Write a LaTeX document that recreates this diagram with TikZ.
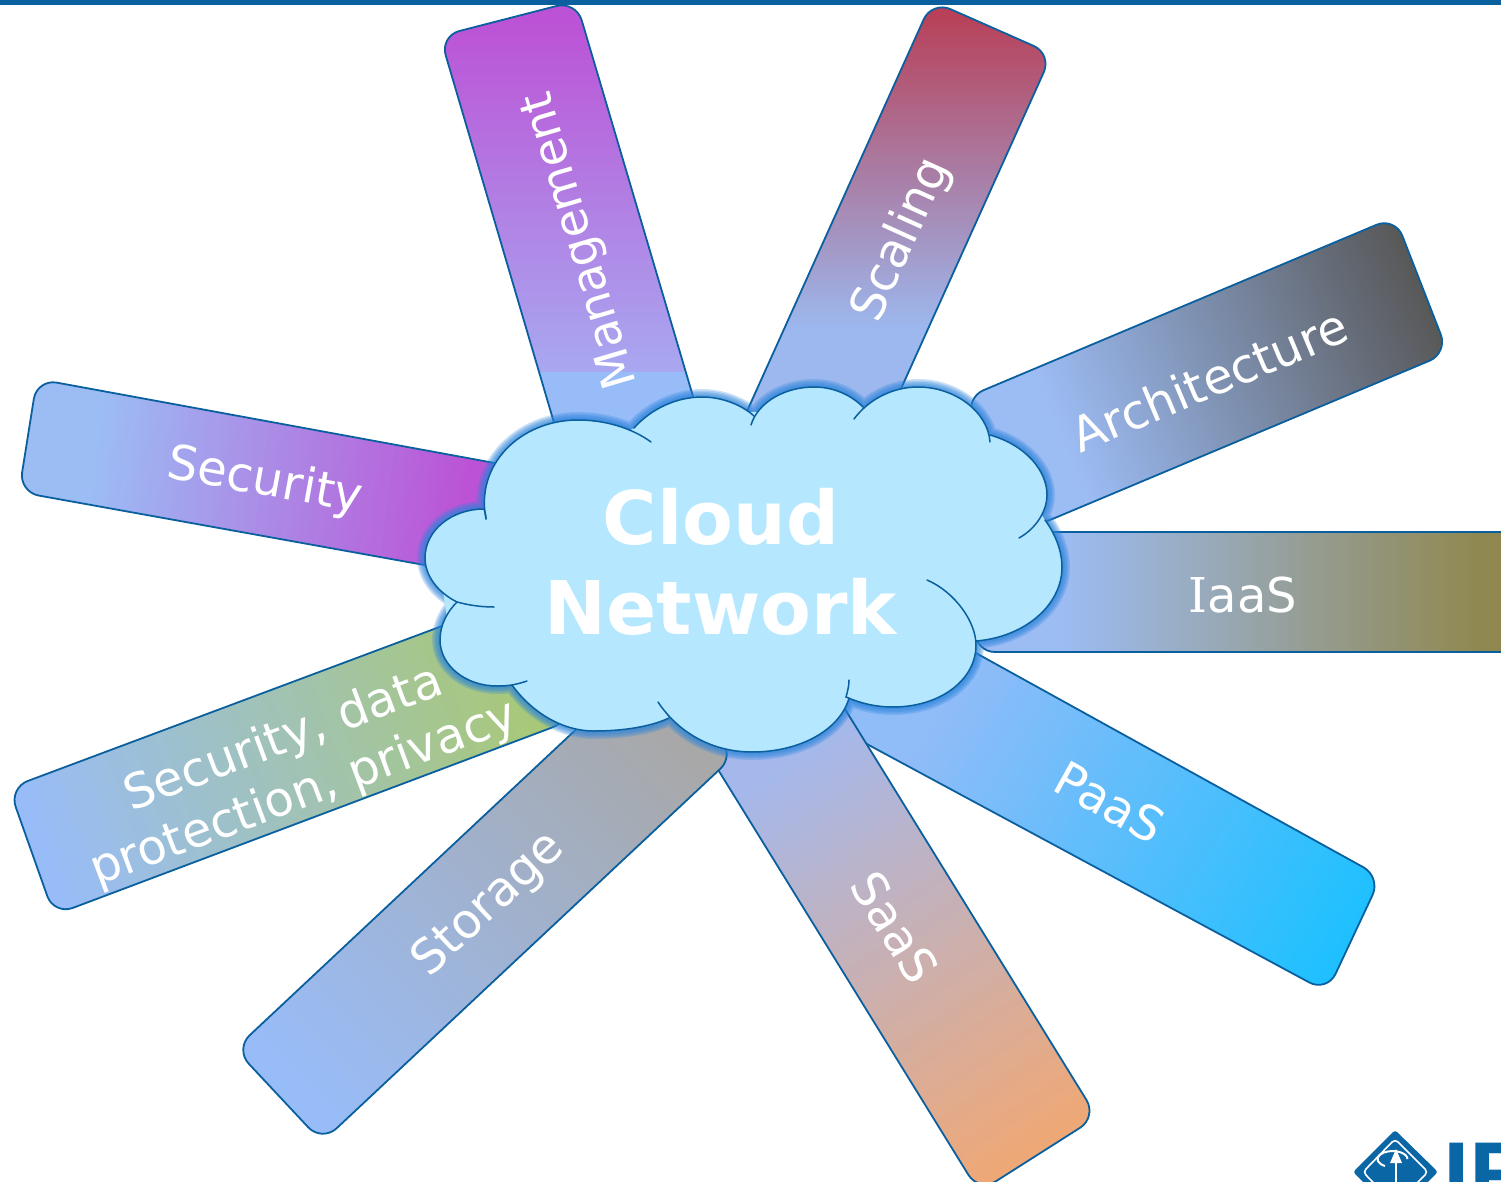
\documentclass[tikz,border=0pt]{standalone}
\usepackage{fontspec}
\setmainfont{DejaVu Sans}
\newfontfamily\logofont{Liberation Sans}
\newfontfamily\serifI{DejaVu Serif}
\definecolor{edge}{HTML}{0A5F9E}
\definecolor{glowc}{HTML}{2A84DC}
\definecolor{cloudc}{HTML}{B5E8FF}
\definecolor{logoc}{HTML}{0B66A6}
\definecolor{bluA}{HTML}{9CBCF4}
\definecolor{bluB}{HTML}{98BCF8}
\definecolor{mag}{HTML}{BC52D6}
\definecolor{mgl}{HTML}{A8A8F0}
\definecolor{red}{HTML}{B84058}
\definecolor{scl}{HTML}{9CB8EE}
\definecolor{dgr}{HTML}{585858}
\definecolor{olv}{HTML}{908850}
\definecolor{cyn}{HTML}{20C0FF}
\definecolor{pab}{HTML}{90BCF8}
\definecolor{org}{HTML}{EEA878}
\definecolor{sab}{HTML}{A4B8EC}
\definecolor{gry}{HTML}{A8A8A8}
\definecolor{grn}{HTML}{A8C878}
\tikzset{
  barline/.style={draw=edge,line width=1.8pt,rounded corners=20pt},
  barlabel/.style={text=white,font=\fontsize{48}{58}\selectfont,align=center,inner sep=0pt},
  cloudline/.style={draw=edge,line width=1.5pt,line cap=round},
  cloudlabel/.style={text=white,font=\fontsize{74}{90}\selectfont\bfseries,align=center,inner sep=0pt}
}
\newcommand\gradbar[8]{%
  \begin{scope}
    \clip[rounded corners=20pt] #1;
    \pgfmathsetmacro\gbang{atan2(-(#5-#3),#4-#2)}
    \pgfmathsetmacro\gblen{veclen(#4-#2,#5-#3)}
    \begin{scope}[shift={(#2,#3)},rotate=\gbang]
      \fill[#8] (-2000,-2000) rectangle (0.5,2000);
      \fill[#7] (\gblen-0.5,-2000) rectangle (2000,2000);
      \foreach \k in {0,...,69}{
        \pgfmathsetmacro\gbp{100*(1-(\k+.5)/70)}
        \pgfmathsetmacro\gbu{\k/70*\gblen}
        \pgfmathsetmacro\gbv{(\k+1)/70*\gblen+.6}
        \fill[#6!\gbp!#7] (\gbu,-2000) rectangle (\gbv,2000);
      }
    \end{scope}
  \end{scope}
  \draw[barline] #1;
}
\def\PA{(486,519) .. controls (475,465) and (520,420) .. (578,420) .. controls (605,420) and (632,428) .. (651,442)}
\def\PB{(634,428) .. controls (650,410) and (675,397) .. (702,397) .. controls (722,397) and (742,405) .. (754,416)}
\def\PC{(751,425) .. controls (758,402) and (785,387) .. (814,387) .. controls (835,387) and (852,396) .. (863,407)}
\def\PD{(854,419) .. controls (868,400) and (892,387) .. (918,387) .. controls (955,387) and (988,412) .. (990,442)}
\def\PE{(990,435) .. controls (1025,445) and (1047,470) .. (1047,495) .. controls (1047,510) and (1037,528) .. (1019,538)}
\def\PF{(1045,520) .. controls (1056,535) and (1062,552) .. (1062,567) .. controls (1062,605) and (1025,637) .. (976,641)}
\def\PG{(927,580) .. controls (955,592) and (976,622) .. (976,645) .. controls (976,680) and (940,707) .. (893,707) .. controls (875,707) and (860,703) .. (846,697) .. controls (848,690) and (849,685) .. (849,680)}
\def\PH{(849,698) .. controls (840,730) and (800,752) .. (752,752) .. controls (715,752) and (680,735) .. (658,702)}
\def\PI{(669,718) .. controls (650,727) and (622,731) .. (594,731) .. controls (560,731) and (530,710) .. (512,685)}
\def\PJ{(527,681) .. controls (515,685) and (508,686) .. (497,686) .. controls (465,686) and (440,665) .. (440,640) .. controls (440,625) and (447,612) .. (457,602)}
\def\PK{(494,607) .. controls (480,607) and (468,605) .. (457,602) .. controls (437,592) and (425,575) .. (425,558) .. controls (425,530) and (452,509) .. (484,509) .. controls (485,512) and (486,515) .. (486,519)}
\begin{document}
\begin{tikzpicture}[x=1pt,y=-1pt]
\useasboundingbox (0,0) rectangle (1501,1182);
\clip (0,0) rectangle (1501,1182);
\fill[white] (0,0) rectangle (1501,1182);

% Bars
\gradbar{(37,379)--(560,475)--(541,586)--(19,492)--cycle}{100}{440}{470}{490}{bluA}{mag}{bluA}
\gradbar{(440,36)--(576,1)--(700,420)--(565,460)--cycle}{500}{372}{500}{20}{mgl}{mag}{bluB}
\gradbar{(932,1)--(1052,54)--(854,493)--(734,440)--cycle}{850}{330}{850}{12}{scl}{red}{scl}
\gradbar{(965,398)--(1395,217)--(1448,353)--(1019,533)--cycle}{1060}{430}{1420}{280}{bluA}{dgr}{bluA}
\gradbar{(975,532)--(1525,532)--(1525,652)--(975,652)--cycle}{1060}{592}{1480}{592}{bluA}{olv}{bluA}
\gradbar{(880,600)--(1381,877)--(1327,992)--(826,722)--cycle}{950}{700}{1340}{940}{pab}{cyn}{pab}
\gradbar{(675,700)--(793,625)--(1097,1117)--(979,1192)--cycle}{770}{770}{1020}{1150}{sab}{org}{sab}
\gradbar{(648,662)--(735,755)--(322,1142)--(235,1049)--cycle}{290}{1080}{660}{720}{bluB}{gry}{bluB}
\gradbar{(9,788)--(525,595)--(572,720)--(54,915)--cycle}{40}{850}{520}{680}{bluB}{grn}{bluB}

% Bar labels
\node[barlabel,rotate=-10.3] (lsecurity) at (265,482) {Security};
\node[barlabel,rotate=106.5,font=\fontsize{46.5}{58}\selectfont] (lmanagement) at (581,240) {Management};
\node[barlabel,rotate=65.6] (lscaling) at (902,240) {Scaling};
\node[barlabel,rotate=22.8] (larch) at (1209,380) {Architecture};
\node[barlabel] (liaas) at (1243,595) {{\serifI I}aaS};
\node[barlabel,rotate=-29] (lpaas) at (1110,802) {PaaS};
\node[barlabel,rotate=-58] (lsaas) at (895,927) {SaaS};
\node[barlabel,rotate=43] (lstorage) at (489,905) {Storage};
\node[barlabel,rotate=20.5] (lprivacy) at (294,767) {Security, data\\protection, privacy};

% Cloud
\edef\cloudpath{\PA -- \PB -- \PC -- \PD -- \PE -- \PF -- \PG -- \PH -- \PI -- \PJ -- \PK -- cycle}
\foreach \w in {16,13,10,7,4}{
  \draw[glowc,opacity=.24,line width=\w pt,line join=round] \cloudpath;
}
\fill[cloudc] \cloudpath;
\fill[cloudc] (486,519)--(634,428)--(752,412)--(859,409)--(990,435)--(1045,520)--(1040,600)--(976,641)--(960,680)--(849,698)--(752,745)--(665,712)--(512,685)--(450,640)--(440,570)--cycle;
\draw[cloudline] \PA; \draw[cloudline] \PB; \draw[cloudline] \PC; \draw[cloudline] \PD;
\draw[cloudline] \PE; \draw[cloudline] \PF; \draw[cloudline] \PG; \draw[cloudline] \PH;
\draw[cloudline] \PI; \draw[cloudline] \PJ; \draw[cloudline] \PK;
\node[cloudlabel] (lcloud) at (721,562) {Cloud\\Network};

% Top rule
\fill[edge] (0,0) rectangle (1501,5);

% Logo
\fill[logoc,rounded corners=3pt] (1395,1130)--(1438,1172)--(1395,1214)--(1353,1172)--cycle;
\draw[white,line width=1.6pt,rounded corners=4pt] (1395,1139)--(1428,1172)--(1395,1205)--(1363,1172)--cycle;
\draw[white,line width=2.5pt] (1396,1182)--(1396,1155);
\fill[white] (1396,1149)--(1402,1163)--(1390,1163)--cycle;
\draw[white,line width=2pt] (1385,1166) arc[start angle=120,end angle=360,x radius=15,y radius=8];
\node[anchor=base west,inner sep=0pt,text=logoc,font=\logofont\bfseries\fontsize{95}{95}\selectfont] (llogo) at (1443,1208) {IE};
\end{tikzpicture}
\end{document}
